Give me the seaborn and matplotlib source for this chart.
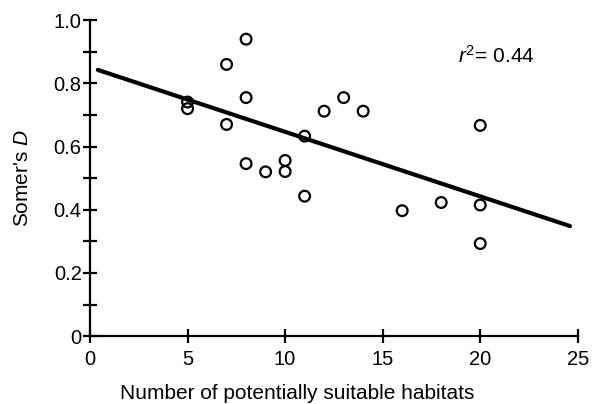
import numpy as np
import pandas as pd
import matplotlib
matplotlib.use("Agg")
import matplotlib.pyplot as plt
import seaborn as sns
from matplotlib.ticker import MultipleLocator, FuncFormatter

habitats = [5, 5, 7, 7, 8, 8, 8, 9, 10, 10, 11, 11, 12, 13, 14, 16, 18, 20, 20, 20]
somers_d = [0.741, 0.720, 0.860, 0.670, 0.940, 0.755, 0.546, 0.520, 0.556, 0.521,
            0.633, 0.443, 0.712, 0.755, 0.712, 0.397, 0.423, 0.667, 0.415, 0.293]
fit_x_range = [0.4, 24.6]
r2_text = "0.44"

sns.set_theme(style="white")
plt.rcParams['font.family'] = ['Liberation Sans', 'DejaVu Sans']
plt.rcParams['mathtext.fontset'] = 'custom'
plt.rcParams['mathtext.rm'] = 'Liberation Sans'
plt.rcParams['mathtext.it'] = 'Liberation Sans:italic'

df = pd.DataFrame({"x": habitats, "y": somers_d})
slope, intercept = np.polyfit(df["x"], df["y"], 1)
fx = np.array(fit_x_range)
line_df = pd.DataFrame({"x": fx, "y": intercept + slope * fx})

fig = plt.figure(figsize=(5.92, 4.04), dpi=100)
ax = fig.add_axes([0.152, 0.168, 0.824, 0.782])

sns.scatterplot(data=df, x="x", y="y", ax=ax, marker="o", s=60,
                facecolor="none", edgecolor="black", linewidth=1.6, zorder=3)
sns.lineplot(data=line_df, x="x", y="y", ax=ax, color="black", linewidth=3.0, zorder=4)

ax.set_xlim(0, 25)
ax.set_ylim(0, 1.0)
ax.xaxis.set_major_locator(MultipleLocator(5))
ax.yaxis.set_major_locator(MultipleLocator(0.2))
ax.yaxis.set_minor_locator(MultipleLocator(0.1))
ax.yaxis.set_major_formatter(FuncFormatter(lambda v, p: "0" if abs(v) < 1e-9 else f"{v:.1f}"))

for s in ["top", "right"]:
    ax.spines[s].set_visible(False)
for s in ["left", "bottom"]:
    ax.spines[s].set_color("black")
    ax.spines[s].set_linewidth(1.6)
    ax.spines[s].set_clip_on(False)

ax.tick_params(axis="both", which="both", direction="inout", length=10, width=1.6,
               color="black", labelsize=14.5, labelcolor="black",
               bottom=True, left=True, top=False, right=False)
ax.tick_params(axis="y", which="both", pad=1)
ax.tick_params(axis="x", which="both", pad=5)

ax.set_xlabel("Number of potentially suitable habitats", fontsize=15, color="black")
ax.set_ylabel("Somer's $\\mathit{D}$", fontsize=15, color="black")
ax.xaxis.set_label_coords(0.424, -0.150)
ax.yaxis.set_label_coords(-0.118, 0.5)

ax.text(0.755, 0.888, "$\\mathit{r}^{2}$= " + r2_text, transform=ax.transAxes,
        fontsize=15, color="black", ha="left", va="center")

fig.savefig("out.png", dpi=100)
